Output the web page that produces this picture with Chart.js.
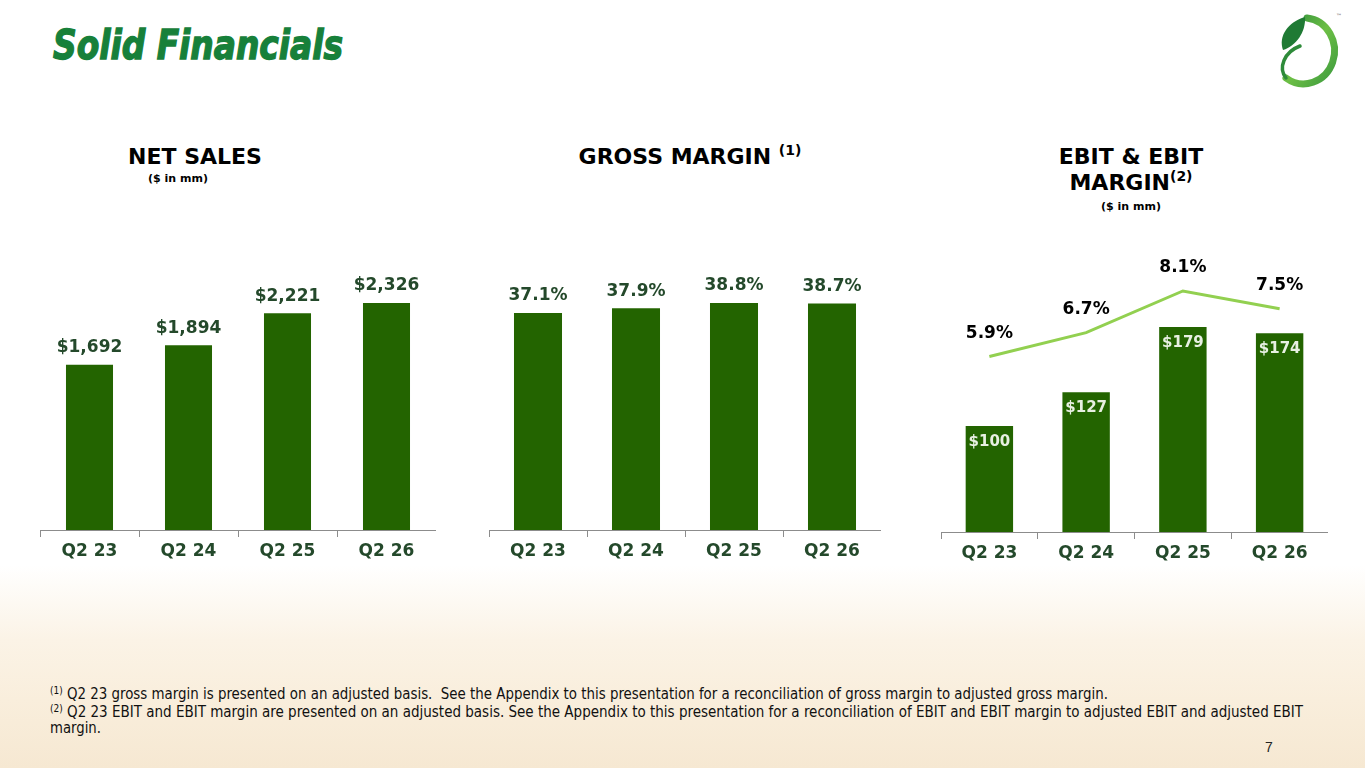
<!DOCTYPE html>
<html><head><meta charset="utf-8">
<script src="https://cdn.jsdelivr.net/npm/chart.js@4.4.1/dist/chart.umd.min.js"></script>
<style>
html,body{margin:0;padding:0;}
body{width:1365px;height:768px;position:relative;overflow:hidden;font-family:"DejaVu Sans",Verdana,sans-serif;
 background:linear-gradient(to bottom,#ffffff 0px,#ffffff 565px,#fbf3e6 640px,#f9eedc 700px,#f6e8d2 768px);}
.abs{position:absolute;white-space:nowrap;}
#title{left:53px;top:22px;font-family:"DejaVu Sans Condensed","DejaVu Sans",sans-serif;font-weight:bold;font-style:oblique;font-size:40px;color:#17803a;-webkit-text-stroke:1.3px #17803a;transform-origin:left top;}
.hdr{font-weight:bold;color:#000;font-size:22px;text-align:center;}
.sub{font-weight:bold;color:#000;font-size:11px;text-align:center;}
.hdr sup{font-size:14px;vertical-align:0;position:relative;top:-9px;}
.fn{left:50px;font-family:"DejaVu Sans Condensed","DejaVu Sans",sans-serif;font-size:15px;color:#111;transform-origin:left center;}
.fn sup{font-size:10px;vertical-align:0;position:relative;top:-5px;}
canvas{position:absolute;}
</style></head>
<body>
<div id="title" class="abs">Solid Financials</div>

<svg class="abs" style="left:1250px;top:8px" width="110" height="85" viewBox="0 0 110 85">
 <defs>
  <linearGradient id="rg" x1="0" y1="0" x2="1" y2="1">
   <stop offset="0" stop-color="#2f8f3c"/><stop offset="0.5" stop-color="#6dbf45"/><stop offset="1" stop-color="#3c9a3e"/>
  </linearGradient>
 </defs>
 <path d="M 57 10 A 31 33 0 1 1 36 70" fill="none" stroke="url(#rg)" stroke-width="7" stroke-linecap="round"/>
 <path d="M 36 70 C 28 60, 34 44, 50 38" fill="none" stroke="#2e8b3a" stroke-width="3.5" stroke-linecap="round"/>
 <path d="M 33 42 C 28 28, 38 14, 55 9 C 56 24, 46 38, 33 42 Z" fill="#1f7a34"/>
 <text x="86" y="10" font-size="6" fill="#555" font-family="DejaVu Sans">™</text>
</svg>

<div class="abs hdr" style="left:95px;top:144px;width:200px;">NET SALES</div>
<div class="abs sub" style="left:128px;top:172px;width:100px;">($ in mm)</div>

<div class="abs hdr" style="left:540px;top:144px;width:300px;">GROSS MARGIN <sup>(1)</sup></div>

<div class="abs hdr" style="left:1000px;top:144px;width:262px;line-height:26px;">EBIT &amp; EBIT<br>MARGIN<sup>(2)</sup></div>
<div class="abs sub" style="left:1081px;top:200px;width:100px;">($ in mm)</div>

<canvas id="c1" width="396" height="320" style="left:40px;top:250px;"></canvas>
<canvas id="c2" width="392" height="320" style="left:489px;top:250px;"></canvas>
<canvas id="c3" width="387" height="320" style="left:941px;top:252px;"></canvas>

<div id="f1" class="abs fn" style="top:685px;"><sup>(1)</sup> Q2 23 gross margin is presented on an adjusted basis.&nbsp; See the Appendix to this presentation for a reconciliation of gross margin to adjusted gross margin.</div>
<div id="f2" class="abs fn" style="top:703px;"><sup>(2)</sup> Q2 23 EBIT and EBIT margin are presented on an adjusted basis. See the Appendix to this presentation for a reconciliation of EBIT and EBIT margin to adjusted EBIT and adjusted EBIT</div>
<div id="f3" class="abs fn" style="top:719px;">margin.</div>
<div class="abs" style="left:1265px;top:739px;font-family:'Liberation Sans',Arial,sans-serif;font-size:14px;color:#222;">7</div>

<script>
const categories = ["Q2 23","Q2 24","Q2 25","Q2 26"];
const netSales = [1692,1894,2221,2326];
const grossMargin = [37.1,37.9,38.8,38.7];
const ebit = [100,127,179,174];
const ebitMargin = [5.9,6.7,8.1,7.5];

const BAR = "#236400";
const LBL = "#24492b";
const FONT = "'DejaVu Sans', Verdana, sans-serif";

const labelPlugin = {
  id: 'vlabels',
  afterDatasetsDraw(chart) {
    const ctx = chart.ctx;
    chart.data.datasets.forEach((ds, i) => {
      const L = ds.lbl; if (!L) return;
      const meta = chart.getDatasetMeta(i);
      meta.data.forEach((el, j) => {
        ctx.save();
        ctx.font = L.font; ctx.fillStyle = L.color;
        ctx.textAlign = 'center'; ctx.textBaseline = 'middle';
        ctx.fillText(L.fmt(ds.data[j]), el.x, el.y + L.dy);
        ctx.restore();
      });
    });
  }
};

function xScale() {
  return {
    offset: true,
    afterFit: s => { s.height = 40; },
    grid: { display: true, drawOnChartArea: false, drawTicks: true, tickLength: 7, offset: true, color: '#8c8c8c', lineWidth: 1 },
    border: { display: true, color: '#8c8c8c', width: 1 },
    ticks: { color: LBL, font: { family: FONT, size: 17, weight: 'bold' }, padding: 4, maxRotation: 0 }
  };
}
const base = {
  responsive: false, maintainAspectRatio: false, animation: false,
  layout: { padding: 0 },
  plugins: { legend: { display: false }, tooltip: { enabled: false } }
};

new Chart(document.getElementById('c1'), {
  type: 'bar',
  data: { labels: categories, datasets: [{
    data: netSales, backgroundColor: BAR, barPercentage: 0.475, categoryPercentage: 1,
    lbl: { font: "bold 17px " + FONT, color: LBL, dy: -17, fmt: v => "$" + v.toLocaleString('en-US') }
  }]},
  options: Object.assign({}, base, { scales: { x: xScale(), y: { display: false, min: 0, max: 2869 } } }),
  plugins: [labelPlugin]
});

new Chart(document.getElementById('c2'), {
  type: 'bar',
  data: { labels: categories, datasets: [{
    data: grossMargin, backgroundColor: BAR, barPercentage: 0.49, categoryPercentage: 1,
    lbl: { font: "bold 17px " + FONT, color: LBL, dy: -17, fmt: v => v.toFixed(1) + "%" }
  }]},
  options: Object.assign({}, base, { scales: { x: xScale(), y: { display: false, min: 0, max: 47.86 } } }),
  plugins: [labelPlugin]
});

new Chart(document.getElementById('c3'), {
  type: 'bar',
  data: { labels: categories, datasets: [
    { type: 'line', data: ebitMargin, yAxisID: 'y2', borderColor: '#92d050', borderWidth: 3, pointRadius: 0, tension: 0, order: 0,
      lbl: { font: "bold 17px " + FONT, color: '#000', dy: -23, fmt: v => v.toFixed(1) + "%" } },
    { type: 'bar', data: ebit, yAxisID: 'y', backgroundColor: BAR, barPercentage: 0.49, categoryPercentage: 1, order: 1,
      lbl: { font: "bold 15px " + FONT, color: '#e8f0e2', dy: 16, fmt: v => "$" + v } }
  ]},
  options: Object.assign({}, base, { scales: {
    x: xScale(),
    y: { display: false, min: 15.4, max: 238.9 },
    y2: { display: false, min: 0, max: 9.41, position: 'right' }
  } }),
  plugins: [labelPlugin]
});

function fit(id, w) {
  const el = document.getElementById(id);
  const cw = el.getBoundingClientRect().width;
  el.style.transform = 'scaleX(' + (w / cw) + ')';
}
fit('title', 290);
fit('f1', 1058);
fit('f2', 1253);
fit('f3', 51);
</script>
</body></html>
